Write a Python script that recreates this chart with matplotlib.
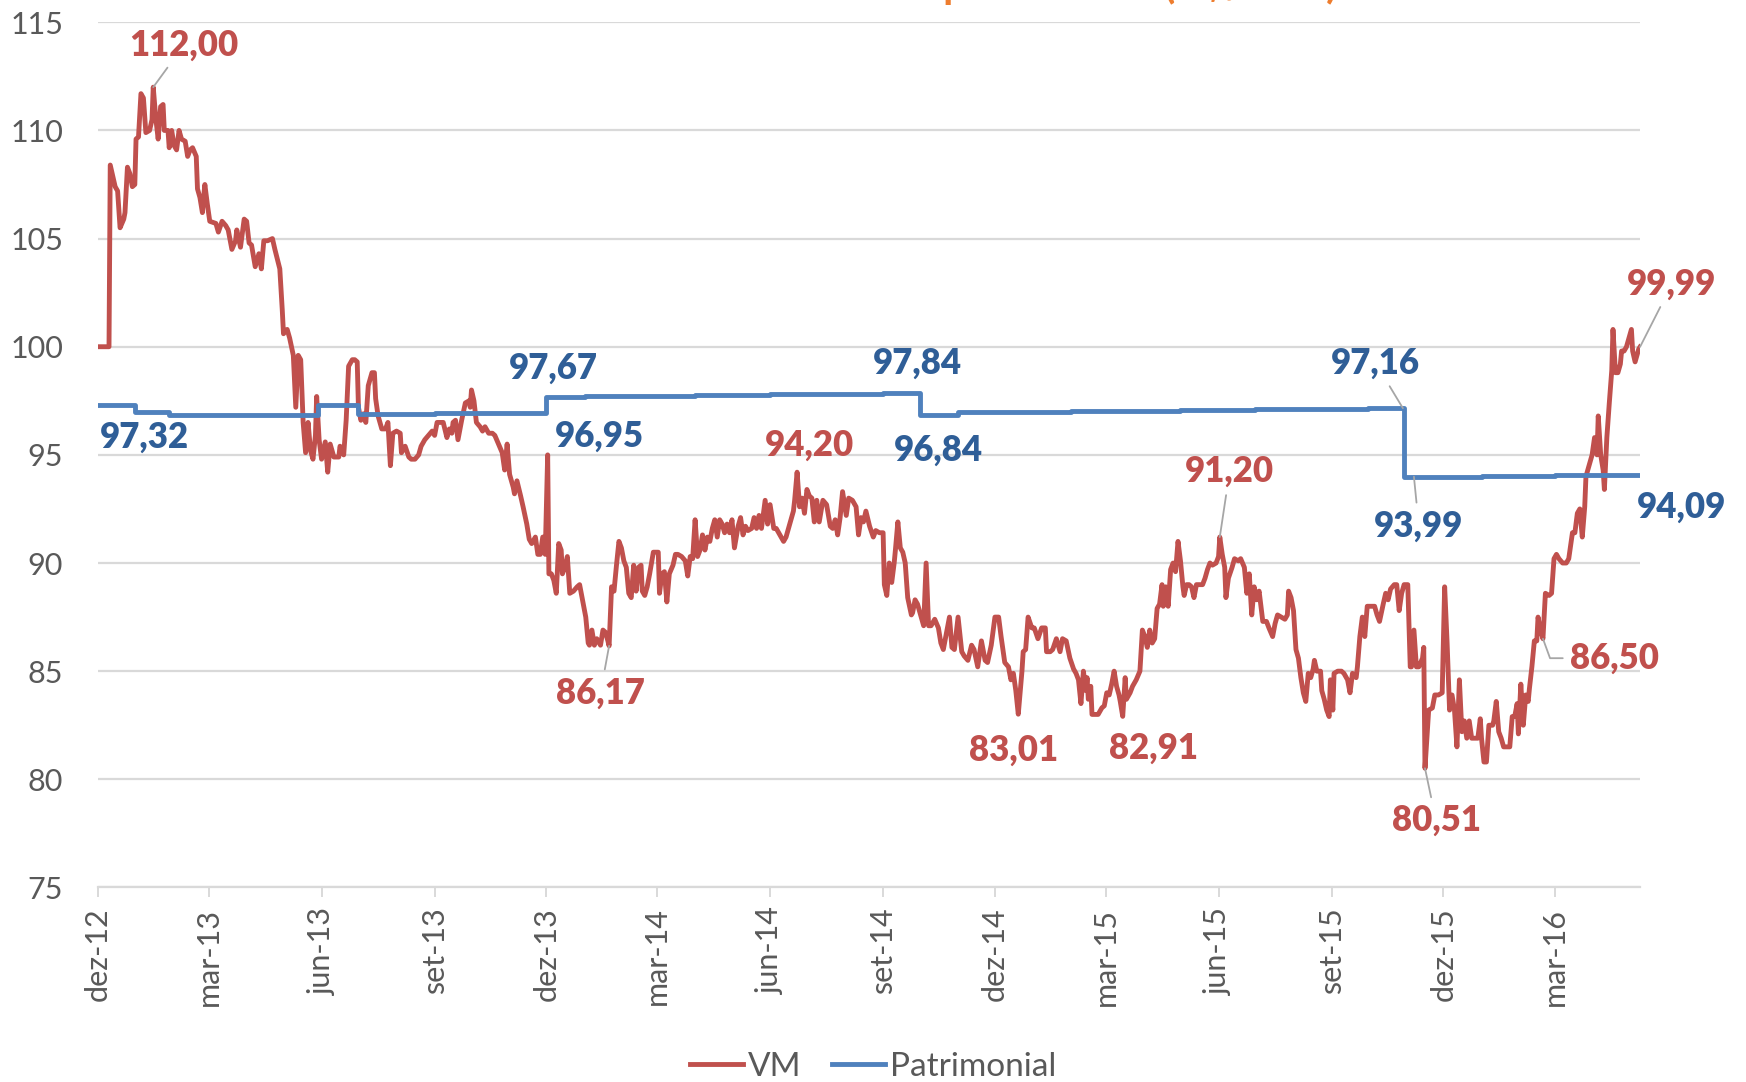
import matplotlib
matplotlib.use("Agg")
import matplotlib.pyplot as plt
import matplotlib.dates as mdates
import pandas as pd

plt.rcParams["font.family"] = ["Lato", "DejaVu Sans"]

OUT_PNG = "out.png"
START = pd.Timestamp("2012-12-01")

# VM (market value) series: days since START
vm_days = [
    0, 4, 9, 10, 14, 16, 18, 21, 22, 24, 26, 28, 30, 31, 33, 35, 37, 39, 42, 44,
    45, 47, 49, 51, 53, 54, 57, 58, 60, 62, 64, 66, 68, 71, 73, 75, 77, 80, 81, 83,
    85, 86, 87, 89, 91, 96, 98, 101, 104, 106, 109, 112, 113, 116, 119, 121, 123, 125, 128, 131,
    133, 135, 138, 142, 144, 148, 150, 151, 154, 156, 159, 161, 163, 165, 167, 169, 171, 173, 175, 177,
    178, 180, 182, 185, 187, 189, 192, 196, 197, 200, 202, 204, 207, 209, 211, 212, 214, 216, 218, 220,
    223, 225, 226, 228, 231, 234, 236, 238, 240, 243, 246, 247, 250, 253, 255, 258, 261, 263, 266, 269,
    272, 274, 276, 279, 281, 284, 286, 288, 289, 291, 293, 296, 299, 302, 303, 304, 306, 308, 311, 313,
    315, 318, 321, 323, 326, 329, 331, 333, 335, 338, 339, 341, 344, 346, 349, 351, 353, 356, 358, 360,
    362, 364, 366, 367, 369, 371, 373, 375, 377, 378, 380, 382, 384, 387, 390, 392, 395, 397, 399, 400,
    402, 404, 406, 409, 411, 413, 415, 416, 418, 420, 422, 424, 426, 428, 430, 432, 434, 436, 438, 440,
    442, 443, 445, 447, 449, 452, 454, 456, 457, 459, 461, 463, 465, 468, 470, 472, 475, 478, 480, 482,
    484, 486, 488, 490, 492, 494, 496, 498, 500, 502, 504, 506, 508, 510, 512, 514, 516, 518, 521, 523,
    525, 527, 529, 532, 534, 536, 538, 540, 543, 545, 547, 550, 552, 555, 558, 560, 563, 566, 567, 569,
    571, 573, 575, 577, 579, 581, 583, 585, 587, 590, 593, 596, 598, 600, 602, 604, 606, 609, 611, 614,
    617, 619, 621, 623, 625, 628, 631, 633, 636, 639, 640, 642, 644, 646, 648, 649, 651, 653, 655, 657,
    659, 662, 663, 665, 667, 670, 672, 674, 676, 678, 681, 684, 686, 688, 691, 693, 695, 697, 700, 703,
    705, 708, 711, 713, 716, 719, 722, 724, 727, 730, 733, 735, 738, 741, 743, 745, 747, 749, 752, 753,
    755, 757, 760, 762, 765, 768, 771, 772, 775, 777, 780, 783, 785, 788, 791, 794, 796, 798, 800, 802,
    804, 805, 806, 808, 809, 811, 814, 817, 819, 821, 823, 825, 827, 829, 831, 832, 834, 836, 837, 840,
    842, 845, 848, 850, 852, 854, 856, 858, 860, 862, 864, 866, 867, 869, 871, 873, 875, 877, 879, 881,
    883, 884, 886, 888, 890, 892, 894, 897, 899, 901, 903, 905, 907, 910, 912, 913, 915, 917, 918, 920,
    923, 925, 928, 930, 933, 935, 937, 939, 941, 943, 945, 948, 951, 953, 956, 958, 960, 963, 966, 968,
    969, 971, 973, 975, 977, 979, 981, 983, 985, 987, 989, 990, 992, 995, 996, 998, 1000, 1002, 1003, 1005,
    1006, 1009, 1012, 1014, 1017, 1019, 1021, 1024, 1025, 1027, 1029, 1031, 1033, 1036, 1039, 1041, 1043, 1046, 1048, 1050,
    1052, 1055, 1057, 1059, 1061, 1063, 1066, 1068, 1069, 1071, 1073, 1075, 1078, 1079, 1080, 1083, 1086, 1088, 1091, 1094,
    1096, 1098, 1100, 1102, 1104, 1106, 1108, 1110, 1112, 1114, 1116, 1118, 1120, 1123, 1125, 1126, 1128, 1130, 1132, 1135,
    1136, 1138, 1140, 1142, 1144, 1146, 1149, 1151, 1153, 1155, 1156, 1158, 1160, 1162, 1164, 1165, 1167, 1169, 1171, 1172,
    1174, 1176, 1178, 1181, 1183, 1185, 1187, 1189, 1192, 1195, 1197, 1200, 1202, 1204, 1206, 1208, 1210, 1211, 1214, 1216,
    1218, 1220, 1221, 1223, 1225, 1226, 1228, 1230, 1232, 1233, 1235, 1237, 1239, 1240, 1242, 1244, 1246, 1248, 1249, 1251,
    1253, 1254, 1255,
]
vm_values = [
    100.0, 100.0, 100.0, 108.4, 107.4, 107.2, 105.5, 105.9, 106.2, 108.3, 108.0, 107.4, 107.5, 109.6, 109.7, 111.7, 111.5, 109.9, 110.0, 110.5,
    112.0, 110.6, 109.6, 111.1, 111.2, 110.0, 110.0, 109.2, 110.0, 109.3, 109.1, 110.0, 109.6, 109.5, 108.8, 109.1, 109.2, 108.8, 107.3, 106.9,
    106.2, 106.9, 107.5, 106.6, 105.8, 105.7, 105.3, 105.8, 105.6, 105.4, 104.5, 104.9, 105.4, 104.6, 105.9, 105.8, 104.8, 104.7, 103.7, 104.3,
    103.6, 104.9, 104.9, 105.0, 104.5, 103.6, 101.7, 100.6, 100.8, 100.4, 99.6, 97.2, 99.6, 99.4, 96.5, 95.1, 96.5, 95.2, 94.8, 95.9,
    97.7, 95.7, 94.8, 95.6, 94.2, 95.5, 94.9, 94.9, 95.4, 95.0, 96.6, 99.1, 99.4, 99.4, 99.3, 97.2, 96.6, 96.9, 96.5, 98.2,
    98.8, 98.8, 97.6, 96.8, 96.2, 96.2, 96.5, 94.5, 96.0, 96.1, 96.0, 95.1, 95.4, 94.9, 94.8, 94.8, 95.0, 95.4, 95.7, 95.9,
    96.1, 95.9, 96.5, 96.5, 96.5, 95.8, 96.2, 96.0, 96.5, 96.6, 95.7, 96.6, 97.4, 97.5, 97.2, 98.0, 97.5, 96.5, 96.3, 96.1,
    96.3, 96.0, 96.0, 95.9, 95.5, 95.1, 94.3, 95.5, 94.1, 93.5, 93.2, 93.8, 93.1, 92.6, 91.8, 91.1, 90.9, 91.2, 90.4, 90.4,
    91.2, 90.4, 95.0, 89.5, 89.5, 89.2, 88.6, 90.9, 90.6, 89.5, 89.8, 90.3, 88.6, 88.7, 88.9, 89.0, 88.1, 87.5, 86.3, 86.2,
    86.9, 86.2, 86.5, 86.2, 86.9, 86.8, 86.4, 86.17, 88.9, 88.7, 89.9, 91.0, 90.7, 90.1, 89.8, 88.6, 88.4, 89.9, 88.7, 89.8,
    89.9, 88.7, 88.5, 88.9, 89.5, 90.5, 90.5, 90.5, 88.6, 89.5, 89.6, 88.2, 89.5, 89.9, 90.4, 90.4, 90.3, 90.1, 89.4, 90.3,
    90.2, 92.0, 90.3, 90.6, 91.3, 90.6, 91.2, 91.0, 91.6, 92.0, 91.2, 92.0, 91.8, 91.4, 91.8, 91.4, 92.0, 90.7, 91.7, 92.1,
    91.3, 91.7, 91.5, 91.6, 92.1, 91.6, 92.2, 91.6, 92.9, 91.8, 92.7, 91.6, 91.6, 91.3, 91.0, 91.2, 91.8, 92.4, 92.9, 94.2,
    92.6, 93.0, 92.3, 93.4, 93.1, 93.0, 91.9, 92.9, 91.9, 92.9, 92.7, 91.7, 91.6, 92.0, 91.3, 92.1, 93.3, 92.2, 93.0, 92.9,
    92.6, 91.3, 92.1, 91.9, 92.4, 91.7, 91.2, 91.5, 91.4, 91.4, 89.0, 88.5, 90.0, 89.1, 90.0, 90.6, 91.9, 90.7, 90.5, 90.0,
    88.4, 87.6, 87.7, 88.3, 88.1, 87.5, 87.1, 90.0, 87.1, 87.1, 87.4, 87.0, 86.3, 86.0, 86.9, 87.5, 86.1, 86.0, 87.5, 85.9,
    85.7, 85.5, 86.2, 86.0, 85.2, 86.4, 85.5, 85.4, 86.2, 87.5, 87.5, 86.6, 85.4, 85.2, 84.6, 84.9, 84.1, 83.01, 85.0, 85.9,
    86.0, 87.5, 87.0, 87.0, 86.5, 87.0, 87.0, 85.9, 85.9, 86.0, 86.5, 85.9, 86.5, 86.4, 85.6, 85.1, 84.9, 84.6, 83.5, 85.0,
    84.1, 84.7, 83.7, 84.3, 83.0, 83.0, 83.0, 83.3, 83.4, 84.0, 83.9, 84.4, 85.0, 84.3, 83.9, 83.6, 82.91, 84.7, 83.7, 84.0,
    84.3, 84.6, 85.0, 86.9, 86.6, 86.1, 86.9, 86.3, 86.5, 87.9, 88.1, 89.0, 88.0, 88.9, 88.0, 89.7, 90.0, 89.6, 91.0, 90.1,
    88.9, 88.5, 89.0, 89.0, 88.9, 88.4, 89.0, 89.0, 89.0, 89.3, 89.7, 90.0, 89.9, 90.0, 90.3, 91.2, 90.4, 89.8, 88.4, 89.3,
    89.8, 90.2, 90.1, 90.2, 89.8, 88.6, 89.5, 87.6, 88.9, 88.3, 88.7, 87.3, 87.3, 87.0, 86.6, 87.2, 87.6, 87.5, 87.4, 87.6,
    88.7, 88.4, 87.8, 86.0, 85.6, 84.7, 84.0, 83.6, 84.9, 84.7, 85.1, 85.5, 85.0, 85.0, 84.1, 83.7, 83.2, 82.9, 84.6, 83.2,
    84.9, 85.0, 85.0, 84.9, 84.6, 84.0, 84.9, 84.7, 85.2, 86.6, 87.5, 86.6, 88.0, 88.0, 88.0, 87.6, 87.3, 88.1, 88.6, 88.3,
    88.8, 89.0, 89.0, 87.8, 88.6, 89.0, 89.0, 85.2, 85.2, 86.9, 85.2, 85.2, 85.6, 86.1, 80.51, 83.2, 83.3, 83.9, 83.9, 84.0,
    88.9, 86.3, 83.2, 83.9, 83.2, 81.5, 84.6, 82.2, 82.7, 81.9, 82.7, 81.9, 81.9, 81.9, 82.8, 81.9, 80.8, 80.8, 82.5, 82.5,
    82.7, 83.6, 82.2, 81.9, 81.5, 81.5, 81.5, 82.9, 82.9, 83.5, 82.1, 84.4, 82.5, 83.9, 83.6, 84.2, 85.2, 86.4, 86.4, 87.5,
    86.9, 86.5, 88.6, 88.5, 88.6, 90.2, 90.4, 90.2, 90.0, 90.0, 90.2, 91.4, 91.4, 92.3, 92.5, 91.2, 92.6, 94.0, 94.6, 95.0,
    95.8, 95.0, 96.8, 95.0, 94.3, 93.4, 95.8, 97.4, 98.9, 100.8, 98.8, 98.8, 99.2, 99.8, 99.8, 100.0, 100.4, 100.8, 99.8, 99.3,
    99.7, 99.9, 99.99,
]

# Patrimonial (book value) series: value changes at these dates
pat_dates = [
    "2012-12-01", "2012-12-31", "2013-01-28", "2013-05-29", "2013-07-01", "2013-08-01",
    "2013-09-01", "2013-10-01", "2013-11-01", "2013-12-01", "2014-01-01", "2014-02-01",
    "2014-03-01", "2014-04-01", "2014-05-01", "2014-06-01", "2014-07-01", "2014-08-01",
    "2014-09-01", "2014-10-01", "2014-11-01", "2014-12-01", "2015-01-01", "2015-02-01",
    "2015-03-01", "2015-04-01", "2015-05-01", "2015-06-01", "2015-07-01", "2015-08-01",
    "2015-09-01", "2015-10-01", "2015-10-30", "2015-12-01", "2016-01-01", "2016-02-01",
    "2016-03-01", "2016-04-01", "2016-05-01", "2016-05-09",
]
pat_values = [
    97.32, 97.00, 96.86, 97.32, 96.90, 96.91,
    96.92, 96.93, 96.95, 97.67, 97.70, 97.72,
    97.74, 97.76, 97.78, 97.80, 97.82, 97.83,
    97.84, 96.84, 96.97, 96.98, 97.00, 97.01,
    97.03, 97.05, 97.07, 97.08, 97.10, 97.12,
    97.14, 97.16, 93.99, 94.00, 94.02, 94.04,
    94.06, 94.08, 94.09, 94.09,
]

tick_dates = ["2012-12-01", "2013-03-01", "2013-06-01", "2013-09-01", "2013-12-01",
              "2014-03-01", "2014-06-01", "2014-09-01", "2014-12-01", "2015-03-01",
              "2015-06-01", "2015-09-01", "2015-12-01", "2016-03-01"]
tick_labels = ["dez-12", "mar-13", "jun-13", "set-13", "dez-13", "mar-14", "jun-14",
               "set-14", "dez-14", "mar-15", "jun-15", "set-15", "dez-15", "mar-16"]
y_ticks = [75, 80, 85, 90, 95, 100, 105, 110, 115]

# title sits mostly above the image edge, only its descenders show
TITLE = "Cota a mercado x cota patrimonial (R$/cota)"

RED = "#C0504D"
BLUE = "#4F81BD"
RED_TXT = "#C0504D"
BLUE_TXT = "#2F5E97"
ORANGE = "#EE7D2E"
GRID = "#D9D9D9"
TXT = "#595959"
LEADER = "#A6A6A6"


def day_num(d):
    return mdates.date2num(START + pd.Timedelta(days=d))


vm_x = [day_num(d) for d in vm_days]
pat_x = mdates.date2num(pd.to_datetime(pat_dates))

fig = plt.figure(figsize=(17.46, 10.82), dpi=100)
ax = fig.add_axes([0.0561, 0.1798, 0.8832, 0.7996])

ax.plot(vm_x, vm_values, color=RED, lw=3.5, solid_joinstyle="round", zorder=3, label="VM")
ax.plot(pat_x, pat_values, color=BLUE, lw=3.5, drawstyle="steps-post", zorder=4, label="Patrimonial")

ax.set_xlim(day_num(0), day_num(1255))
ax.set_ylim(75, 115)
ax.set_yticks(y_ticks)
ax.set_yticklabels([str(v) for v in y_ticks])
ax.set_xticks(mdates.date2num(pd.to_datetime(tick_dates)))
ax.set_xticklabels(tick_labels, rotation=90)

ax.grid(axis="y", color=GRID, lw=1.6, zorder=0)
ax.set_axisbelow(True)
for s in ["left", "right", "top"]:
    ax.spines[s].set_visible(False)
ax.spines["bottom"].set_color(GRID)
ax.spines["bottom"].set_linewidth(1.6)
ax.tick_params(axis="y", length=0, pad=25, labelsize=22, labelcolor=TXT)
ax.tick_params(axis="x", direction="out", length=7.5, width=1.4, color=GRID,
               pad=7, labelsize=22, labelcolor=TXT)

# data labels: text, (day, value) of the marked point, text position, colour
labels = [
    ("112,00", (45, 112.0), (70, 113.95), RED_TXT, "arc3"),
    ("97,32", None, (38, 95.8), BLUE_TXT, None),
    ("97,67", None, (371, 99.0), BLUE_TXT, None),
    ("96,95", None, (408, 95.84), BLUE_TXT, None),
    ("86,17", (416, 86.17), (409, 84.0), RED_TXT, "arc3"),
    ("94,20", None, (579, 95.45), RED_TXT, None),
    ("97,84", None, (667, 99.24), BLUE_TXT, None),
    ("96,84", None, (684, 95.23), BLUE_TXT, None),
    ("83,01", None, (745, 81.36), RED_TXT, None),
    ("82,91", None, (859, 81.44), RED_TXT, None),
    ("91,20", (913, 91.2), (921, 94.22), RED_TXT, "arc3"),
    ("97,16", (1062, 97.16), (1040, 99.23), BLUE_TXT, "arc3"),
    ("93,99", (1071, 93.99), (1075, 91.71), BLUE_TXT, "arc3"),
    ("80,51", (1080, 80.51), (1089, 78.09), RED_TXT, "arc3"),
    ("86,50", (1176, 86.5), (1234, 85.6), RED_TXT, "angle,angleA=0,angleB=-70,rad=0"),
    ("99,99", (1255, 99.99), (1281, 102.9), RED_TXT, "arc3"),
    ("94,09", None, (1289, 92.6), BLUE_TXT, None),
]
for text, pt, pos, col, conn in labels:
    tx, ty = day_num(pos[0]), pos[1]
    if pt is None:
        ax.text(tx, ty, text, color=col, fontsize=25, fontweight="heavy",
                ha="center", va="center", clip_on=False, zorder=6)
    else:
        ax.annotate(text, xy=(day_num(pt[0]), pt[1]), xytext=(tx, ty),
                    color=col, fontsize=25, fontweight="heavy", ha="center", va="center",
                    annotation_clip=False, zorder=6,
                    arrowprops=dict(arrowstyle="-", color=LEADER, lw=1.3,
                                    shrinkA=3, shrinkB=0, connectionstyle=conn))

fig.text(1338 / 1746, 1.0015, TITLE, color=ORANGE, fontsize=30, fontweight="bold",
         ha="right", va="baseline")

leg = fig.legend(loc="center", bbox_to_anchor=(0.5, 0.0139), ncol=2, frameon=False,
                 fontsize=24, handlelength=1.6, handletextpad=0.15, columnspacing=0.9)
for t in leg.get_texts():
    t.set_color(TXT)

fig.savefig(OUT_PNG, dpi=100)
